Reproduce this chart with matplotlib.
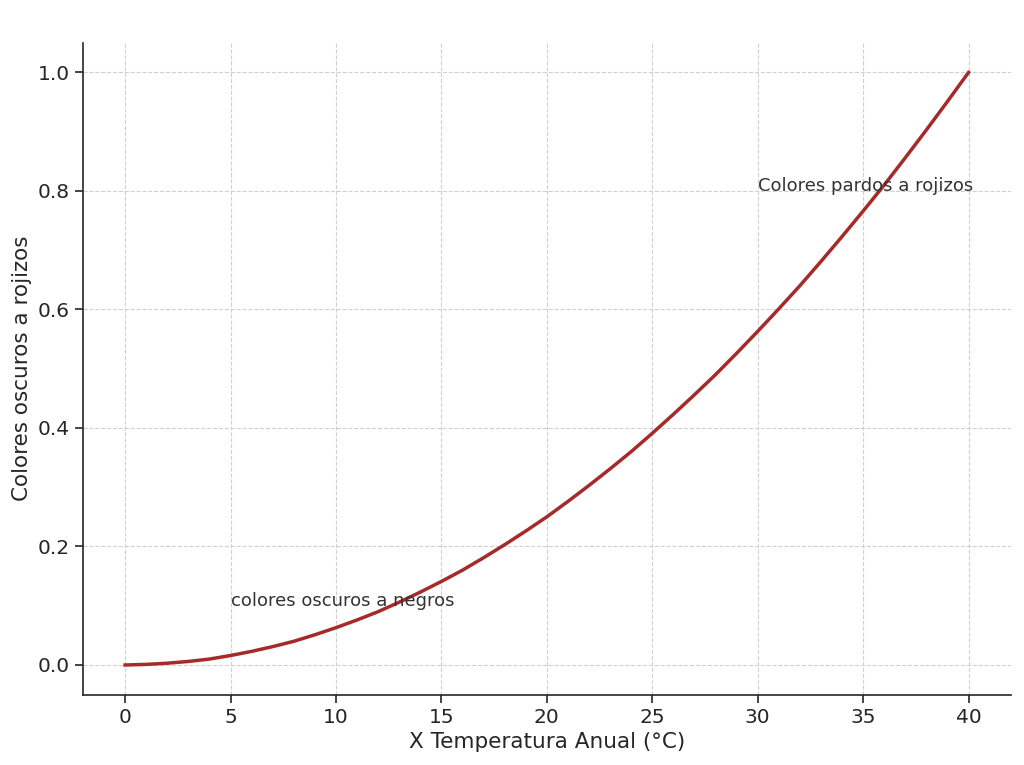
import matplotlib
matplotlib.use("Agg")
import matplotlib.pyplot as plt

# values, one per degree
temperatura = list(range(0, 41))
color_index = [0.0, 0.001, 0.003, 0.006, 0.010, 0.016, 0.023, 0.031, 0.040,
               0.051, 0.063, 0.076, 0.090, 0.106, 0.123, 0.141, 0.160, 0.181,
               0.203, 0.226, 0.250, 0.276, 0.303, 0.331, 0.360, 0.391, 0.423,
               0.456, 0.490, 0.526, 0.563, 0.601, 0.640, 0.681, 0.723, 0.766,
               0.810, 0.856, 0.903, 0.951, 1.0]

xticks = [0, 5, 10, 15, 20, 25, 30, 35, 40]
yticks = [0.0, 0.2, 0.4, 0.6, 0.8, 1.0]

plt.rcParams['font.family'] = ['DejaVu Sans']
text_color = '#262626'

fig, ax = plt.subplots(figsize=(10.24, 7.65), dpi=100)
fig.subplots_adjust(left=0.081, right=0.987, top=0.944, bottom=0.092)

ax.plot(temperatura, color_index, color='#A52A2A', linewidth=2.5)

ax.text(5, 0.1, 'colores oscuros a negros', fontsize=13, color='#333333')
ax.text(30, 0.8, 'Colores pardos a rojizos', fontsize=13, color='#333333')

ax.set_xlim(-2, 42)
ax.set_ylim(-0.05, 1.05)
ax.set_xticks(xticks)
ax.set_yticks(yticks)
ax.set_yticklabels([f'{v:.1f}' for v in yticks])

ax.set_xlabel('X Temperatura Anual (°C)', fontsize=15.5, color=text_color)
ax.set_ylabel('Colores oscuros a rojizos', fontsize=15.5, color=text_color)
ax.tick_params(labelsize=14.5, colors=text_color, length=6, width=1.2)

ax.grid(True, linestyle='--', color='#d0d0d0', linewidth=0.8)
ax.spines['top'].set_visible(False)
ax.spines['right'].set_visible(False)
for s in ['left', 'bottom']:
    ax.spines[s].set_color(text_color)
    ax.spines[s].set_linewidth(1.2)

fig.savefig('out.png', dpi=100)
